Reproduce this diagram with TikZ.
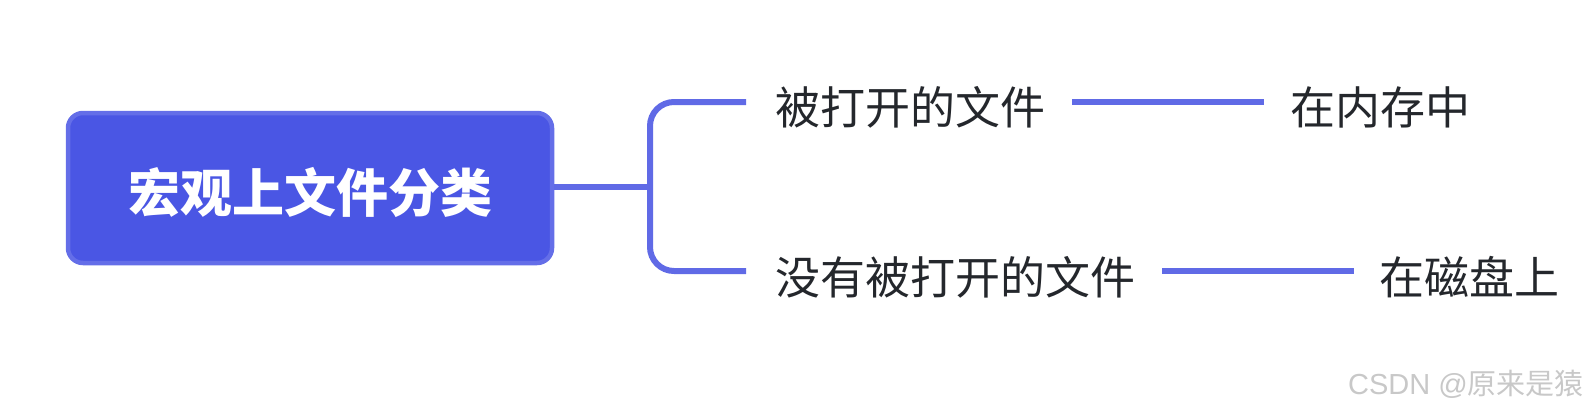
\documentclass[tikz,border=0pt]{standalone}
\usepackage{fontspec}
\setmainfont{Noto Sans CJK SC}
\newfontfamily\cjk{Noto Sans CJK SC}
\newfontfamily\wmlatin{Liberation Sans}
\definecolor{rootfill}{RGB}{74,86,228}
\definecolor{rootdraw}{RGB}{100,110,232}
\definecolor{linec}{RGB}{96,106,230}
\definecolor{txt}{RGB}{36,39,44}
\definecolor{wm}{RGB}{200,200,200}
\tikzset{
  rootbox/.style={draw=rootdraw, fill=rootfill, line width=4.5pt, rounded corners=15pt,
    minimum width=484pt, minimum height=150pt, inner sep=0pt,
    text=white, font=\cjk\bfseries\fontsize{52}{52}\selectfont},
  childtxt/.style={anchor=west, inner sep=0pt, text=txt, font=\cjk\fontsize{45}{45}\selectfont},
  conn/.style={draw=linec, line width=6pt},
}
\begin{document}
\begin{tikzpicture}[x=1pt,y=-1pt]
\useasboundingbox (0,0) rectangle (1588,407);
\node[rootbox] (root) at (310,188) {};
\node[inner sep=0pt, text=white, font=\cjk\bfseries\fontsize{52}{52}\selectfont] (rt) at (310,192) {宏观上文件分类};
\node[childtxt] (c1) at (775,107) {被打开的文件};
\node[childtxt] (c2) at (775,277) {没有被打开的文件};
\node[childtxt] (l1) at (1290,107) {在内存中};
\node[childtxt] (l2) at (1379,277) {在磁盘上};
\coordinate (bm) at (650,187);
\coordinate (bt) at (650,102);
\coordinate (bb) at (650,271);
\coordinate (e1) at (746,102);
\coordinate (e2) at (746,271);
\draw[conn] (root.east |- bm) -- (bm);
\draw[conn, rounded corners=24pt] (e1) -- (bt) -- (bb) -- (e2);
\coordinate (s1) at (1072,102);
\coordinate (t1) at (1264,102);
\coordinate (s2) at (1162,271);
\coordinate (t2) at (1354,271);
\draw[conn] (s1) -- (t1);
\draw[conn] (s2) -- (t2);
\node[anchor=east, inner sep=0pt, text=wm] (wmk) at (1584,384)
  {{\wmlatin\fontsize{29}{29}\selectfont CSDN @}{\cjk\fontsize{29}{29}\selectfont 原来是猿}};
\end{tikzpicture}
\end{document}
